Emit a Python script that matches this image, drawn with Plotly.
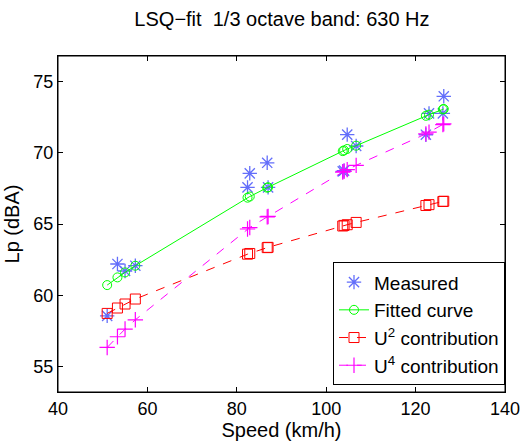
import plotly.graph_objects as go

# speeds of the runs (km/h)
speed = [51.0, 53.3, 55.0, 57.3, 82.4, 82.9, 86.8, 87.0,
         103.7, 104.0, 104.7, 106.7, 122.3, 123.0, 126.1, 126.3]

# measured levels (dBA)
measured = [58.55, 62.19, 61.70, 62.07, 67.57, 68.56, 69.30, 67.57,
            68.70, 68.75, 71.28, 70.48, 71.27, 72.77, 72.77, 73.97]

# least squares fit and the two parts of it
fitted = [60.71, 61.25, 61.60, 62.07, 66.85, 66.93, 67.55, 67.58,
          70.12, 70.17, 70.27, 70.50, 72.60, 72.68, 73.05, 73.08]
u2_part = [58.72, 59.10, 59.38, 59.73, 62.88, 62.93, 63.34, 63.36,
           64.86, 64.90, 64.95, 65.11, 66.30, 66.36, 66.58, 66.60]
u4_part = [56.33, 57.08, 57.62, 58.27, 64.65, 64.75, 65.50, 65.53,
           68.65, 68.70, 68.82, 69.12, 71.33, 71.45, 71.98, 72.03]

x_ticks = [40, 60, 80, 100, 120, 140]
y_ticks = [55, 60, 65, 70, 75]

font = "Liberation Sans, Arial, sans-serif"

fig = go.Figure()
fig.add_trace(go.Scatter(x=speed, y=measured, mode="markers", name="Measured",
                         marker=dict(symbol="asterisk-open", size=12,
                                     line=dict(color="#0000ff", width=1.3))))
fig.add_trace(go.Scatter(x=speed, y=fitted, mode="lines+markers", name="Fitted curve",
                         line=dict(color="#00ff00", width=1),
                         marker=dict(symbol="circle-open", size=9,
                                     line=dict(color="#00ff00", width=1))))
fig.add_trace(go.Scatter(x=speed, y=u2_part, mode="lines+markers",
                         name="U<sup>2</sup> contribution",
                         line=dict(color="#ff0000", width=1, dash="dash"),
                         marker=dict(symbol="square-open", size=10,
                                     line=dict(color="#ff0000", width=1))))
fig.add_trace(go.Scatter(x=speed, y=u4_part, mode="lines+markers",
                         name="U<sup>4</sup> contribution",
                         line=dict(color="#ff00ff", width=1, dash="dash"),
                         marker=dict(symbol="cross-thin-open", size=11,
                                     line=dict(color="#ff00ff", width=1.2))))

axis_style = dict(showline=True, linecolor="black", linewidth=1, mirror="allticks",
                  ticks="inside", ticklen=5, tickcolor="black", showgrid=False,
                  zeroline=False, automargin=False,
                  tickfont=dict(size=18, color="black"))

fig.update_xaxes(range=[40, 140], tickvals=x_ticks,
                 title=dict(text="Speed (km/h)", font=dict(size=20, color="black"), standoff=0),
                 **axis_style)
fig.update_yaxes(range=[53.2, 76.8], tickvals=y_ticks,
                 title=dict(text="Lp (dBA)", font=dict(size=20, color="black"), standoff=8),
                 **axis_style)

# frame round the plot area, as the mirrored axis lines did not show
fig.add_shape(type="rect", xref="paper", yref="paper", x0=0, y0=0, x1=1, y1=1,
              line=dict(color="black", width=1), layer="above")

fig.update_layout(
    width=529, height=442,
    margin=dict(l=58, r=24, t=56, b=50),
    paper_bgcolor="white", plot_bgcolor="white",
    font=dict(family=font, color="black"),
    title=dict(text="LSQ\u2212fit  1/3 octave band: 630 Hz", x=0.533, xanchor="center",
               y=0.956, yanchor="middle", font=dict(size=20, color="black")),
    legend=dict(x=1, y=0.02, xanchor="right", yanchor="bottom",
                bgcolor="white", bordercolor="black", borderwidth=1,
                font=dict(size=19, color="black"), tracegroupgap=0,
                itemwidth=30),
    showlegend=True,
)

fig.write_html("out.html", config={"displayModeBar": False},
               post_script="document.body.style.margin = '0';")
